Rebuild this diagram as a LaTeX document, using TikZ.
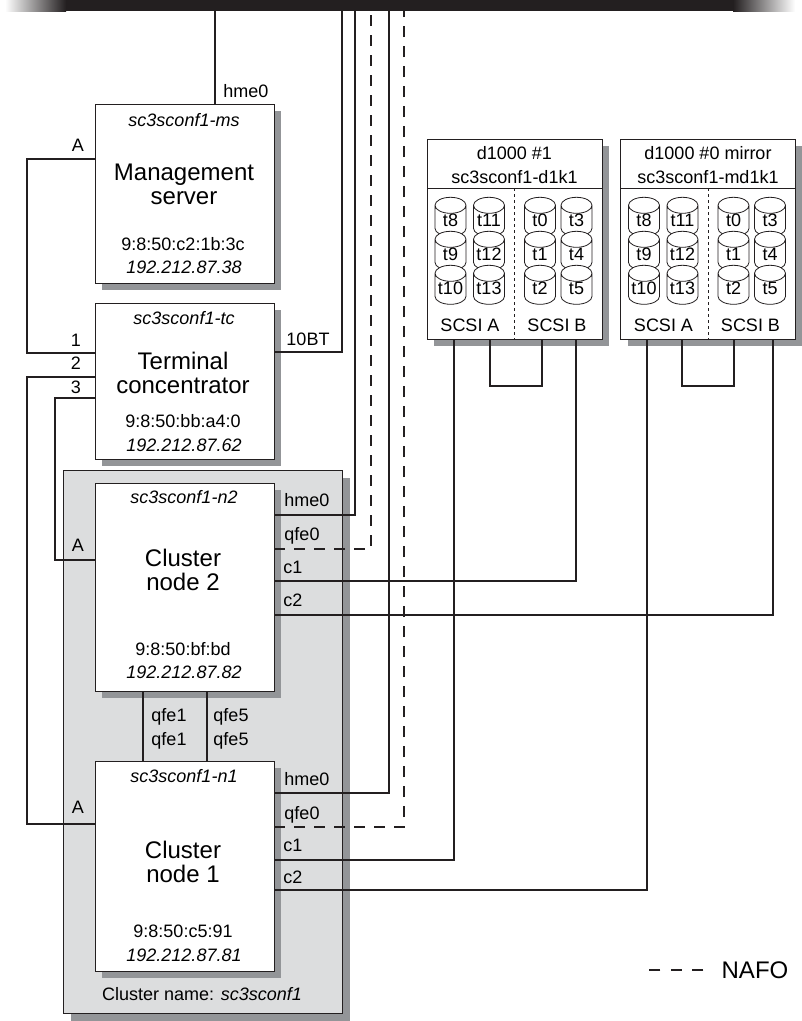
\documentclass[tikz,border=0pt]{standalone}
\usepackage{fontspec}
\setmainfont{Liberation Sans}
\usetikzlibrary{positioning,shapes.geometric,shadows}
\definecolor{busblack}{HTML}{231F20}
\definecolor{shadowgray}{HTML}{939598}
\definecolor{clustergray}{HTML}{DCDDDE}

\begin{document}
\begin{tikzpicture}[x=1pt,y=-1pt,font=\fontsize{18}{22}\selectfont,
  box/.style={draw=busblack,fill=white,line width=1pt,outer sep=0pt,inner sep=0pt,
    drop shadow={shadow xshift=7pt,shadow yshift=-7pt,fill=shadowgray,opacity=1}},
  host/.style={box,minimum width=179pt},
  array/.style={box,minimum width=175pt,minimum height=200pt},
  big/.style={font=\fontsize{24}{24}\selectfont,align=center,inner sep=0pt},
  tag/.style={inner sep=0pt},
  ital/.style={tag,font=\fontsize{18}{22}\selectfont\itshape},
  disk/.style={draw=busblack,fill=white,line width=.8pt,cylinder,shape border rotate=90,
    minimum width=31pt,minimum height=39pt,aspect=1,inner sep=0pt,outer sep=0pt,
    text height=10pt,text depth=0pt},
  wire/.style={draw=busblack,line width=2pt},
  nafo/.style={wire,dash pattern=on 11pt off 9pt},
  bar/.style={inner sep=0pt,outer sep=0pt,minimum height=11pt}]
\useasboundingbox (0,0) rectangle (802,1021);
% backbone
\node[bar,fill=busblack,minimum width=667pt] (bus) at (399.5,5.5) {};
\node[bar,minimum width=61pt,left color=white,right color=busblack,left=0pt of bus] (busleft) {};
\node[bar,minimum width=62pt,left color=busblack,right color=white,right=0pt of bus] (busright) {};
% cluster and hosts
\node[draw=busblack,fill=clustergray,line width=1pt,outer sep=0pt,minimum width=279pt,minimum height=543pt,
  drop shadow={shadow xshift=8pt,shadow yshift=-8pt,fill=shadowgray,opacity=1}] (cluster) at (202.5,741.5) {};
\node[host,minimum height=179pt] (ms) at (184.5,193.5) {};
\node[host,minimum height=156pt] (tc) at (184.5,381) {};
\node[host,minimum height=208pt] (ntwo) at (184.5,587) {};
\node[host,minimum height=210pt] (none) at (184.5,866) {};
\node[ital] at (184,120) {sc3sconf1-ms};
\node[big] at (184,184) {Management\\server};
\node[tag] at (183,244) {9:8:50:c2:1b:3c};
\node[ital] at (184,267) {192.212.87.38};
\node[ital] at (184,318) {sc3sconf1-tc};
\node[big] at (183,373) {Terminal\\concentrator};
\node[tag] at (183,421) {9:8:50:bb:a4:0};
\node[ital] at (184,445) {192.212.87.62};
\node[ital] at (184,497) {sc3sconf1-n2};
\node[big] at (183,570) {Cluster\\node 2};
\node[tag] at (183,649) {9:8:50:bf:bd};
\node[ital] at (184,672) {192.212.87.82};
\node[ital] at (184,776) {sc3sconf1-n1};
\node[big] at (183,862) {Cluster\\node 1};
\node[tag] at (183,931) {9:8:50:c5:91};
\node[ital] at (184,955) {192.212.87.81};
\node[tag] at (202,994) {Cluster name: \textit{sc3sconf1}};
% disk arrays
\foreach \arr/\ax/\atitle/\aname in {arone/514.5/d1000 \#1/sc3sconf1-d1k1,artwo/708/d1000 \#0 mirror/sc3sconf1-md1k1}{
  \node[array] (\arr) at (\ax,239) {};
  \draw[busblack,line width=1pt] (\arr.west |- 0,188) -- (\arr.east |- 0,188);
  \draw[busblack,line width=.7pt,dashed] (\arr.center |- 0,188) -- (\arr.south);
  \node[tag] at (\ax,153) {\atitle};
  \node[tag] at (\ax,177) {\aname};
  \node[tag] at (\ax-44.5,325) {SCSI A};
  \node[tag] at (\ax+42.5,325) {SCSI B};
  \foreach \dx/\dy/\dname in {-64/221/t8,-64/255/t9,-64/289/t10,-25.5/221/t11,-25.5/255/t12,-25.5/289/t13,
      25.5/221/t0,25.5/255/t1,25.5/289/t2,62/221/t3,62/255/t4,62/289/t5}{
    \node[disk] (\arr-\dname) at (\ax+\dx,\dy) {\makebox[16pt]{\dname}};
  }
}
% wires to the backbone
\draw[wire] (ms.north -| 215,0) -- (bus.south -| 215,0);
\draw[wire] (tc.east |- 0,352) -| (bus.south -| 342,0);
\draw[wire] (ntwo.east |- 0,515) -| (bus.south -| 355,0);
\draw[nafo] (ntwo.east |- 0,549) -| (bus.south -| 371,0);
\draw[wire] (none.east |- 0,793) -| (bus.south -| 389,0);
\draw[nafo] (none.east |- 0,827) -| (bus.south -| 404,0);
% console lines
\draw[wire] (ms.west |- 0,159) -- ++(-68,0) |- (tc.west |- 0,353);
\draw[wire] (tc.west |- 0,377) -- ++(-68,0) |- (none.west |- 0,824);
\draw[wire] (tc.west |- 0,398) -- ++(-40,0) |- (ntwo.west |- 0,560);
% interconnect
\draw[wire] (ntwo.south -| 143,0) -- (none.north -| 143,0);
\draw[wire] (ntwo.south -| 207,0) -- (none.north -| 207,0);
% scsi
\draw[wire] (ntwo.east |- 0,581) -| (arone.south -| 576,0);
\draw[wire] (ntwo.east |- 0,615) -| (artwo.south -| 773,0);
\draw[wire] (none.east |- 0,860) -| (arone.south -| 454,0);
\draw[wire] (none.east |- 0,890) -| (artwo.south -| 647,0);
\draw[wire] (arone.south -| 490,0) -- ++(0,47) -| (arone.south -| 542,0);
\draw[wire] (artwo.south -| 682,0) -- ++(0,47) -| (artwo.south -| 734,0);
% port labels
\node[tag] at (246,91) {hme0};
\node[tag] at (78,145) {A};
\node[tag] at (76,340) {1};
\node[tag] at (76,363) {2};
\node[tag] at (76,387) {3};
\node[tag] at (308,339) {10BT};
\node[tag] at (78,545) {A};
\node[tag] at (307,500) {hme0};
\node[tag] at (302,536) {qfe0};
\node[tag] at (293,567) {c1};
\node[tag] at (293,600) {c2};
\node[tag] at (169,717) {qfe1};
\node[tag] at (169,741) {qfe1};
\node[tag] at (231,717) {qfe5};
\node[tag] at (231,741) {qfe5};
\node[tag] at (78,807) {A};
\node[tag] at (307,779) {hme0};
\node[tag] at (302,815) {qfe0};
\node[tag] at (293,845) {c1};
\node[tag] at (293,877) {c2};
% legend
\node[big] (legend) at (755,970) {NAFO};
\draw[wire,dash pattern=on 11pt off 10.5pt] ([xshift=-18pt]legend.west) -- ++(-54,0);
\end{tikzpicture}
\end{document}
